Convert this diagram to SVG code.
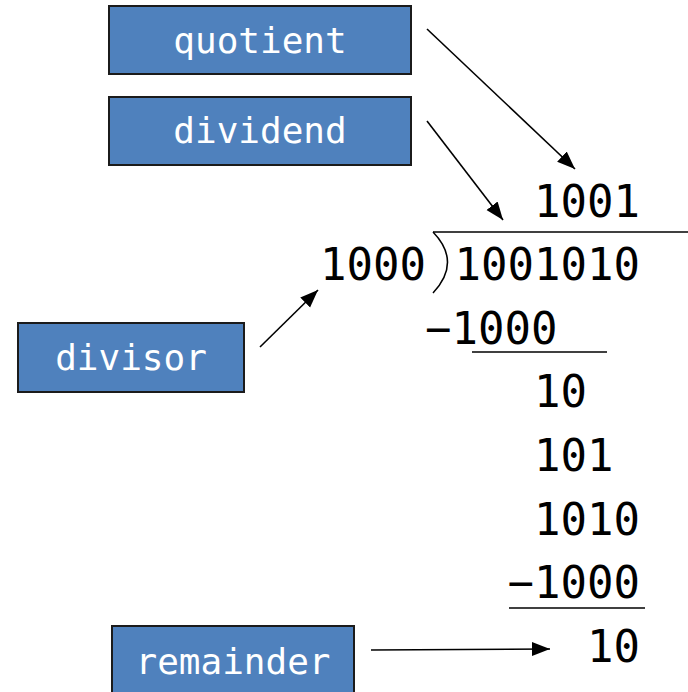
<svg xmlns="http://www.w3.org/2000/svg" width="688" height="692" viewBox="0 0 688 692">
<defs>
<marker id="ah" markerUnits="userSpaceOnUse" markerWidth="20" markerHeight="16" refX="18" refY="8" orient="auto">
<path d="M0,1 L18,8 L0,15 Z" fill="#000"/>
</marker>
<style>
.box{fill:#4F81BD;stroke:#1b1b1b;stroke-width:2}
.lbl{font-family:"DejaVu Sans Mono","Liberation Mono",monospace;font-size:36px;fill:#fff;text-anchor:middle}
.num{font-family:"DejaVu Sans Mono","Liberation Mono",monospace;font-size:44px;fill:#000}
.conn{stroke:#000;stroke-width:1.6;fill:none;marker-end:url(#ah)}
.rule{stroke:#000;stroke-width:1.5;fill:none}
</style>
</defs>
<rect width="688" height="692" fill="#fff"/>
<g id="quotient"><rect class="box" x="109" y="6" width="302" height="68"/><text class="lbl" x="260" y="53">quotient</text></g>
<g id="dividend"><rect class="box" x="109" y="97" width="302" height="68"/><text class="lbl" x="260" y="143">dividend</text></g>
<g id="divisor"><rect class="box" x="18" y="323" width="226" height="69"/><text class="lbl" x="131" y="370">divisor</text></g>
<g id="remainder"><rect class="box" x="112" y="626" width="242" height="72"/><text class="lbl" x="233" y="674">remainder</text></g>
<g id="division">
<path class="rule" d="M433,232 L688,232"/>
<path class="rule" d="M433,232 Q462,262 433,293"/>
<path class="rule" d="M472,352 L607,352"/>
<path class="rule" d="M509,608 L645,608"/>
<text class="num" x="640" y="217" text-anchor="end">1001</text>
<text class="num" x="426" y="280" text-anchor="end">1000</text>
<text class="num" x="640" y="280" text-anchor="end">1001010</text>
<text class="num" x="425" y="344">−1000</text>
<text class="num" x="534" y="407">10</text>
<text class="num" x="534" y="471">101</text>
<text class="num" x="534" y="535">1010</text>
<text class="num" x="640" y="598" text-anchor="end">−1000</text>
<text class="num" x="640" y="662" text-anchor="end">10</text>
</g>
<g id="connectors">
<line class="conn" x1="427" y1="29" x2="575" y2="169"/>
<line class="conn" x1="427" y1="121" x2="503" y2="220"/>
<line class="conn" x1="260" y1="347" x2="318" y2="290"/>
<line class="conn" x1="371" y1="650" x2="550" y2="649"/>
</g>
</svg>
